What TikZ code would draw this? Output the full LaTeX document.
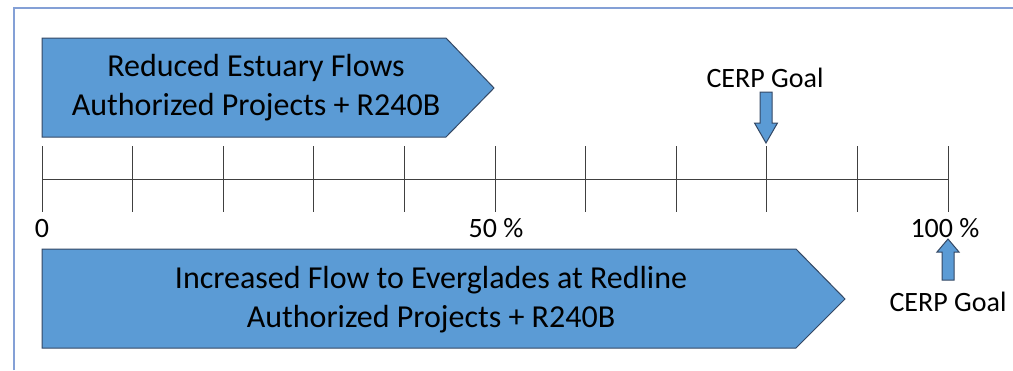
\documentclass[tikz,border=0pt]{standalone}
\usepackage{fontspec}
\setmainfont{Carlito}

\definecolor{flowblue}{RGB}{91,155,213}
\definecolor{flowedge}{RGB}{52,72,100}
\definecolor{frameblue}{RGB}{132,160,214}

\tikzset{
  flowshape/.style={fill=flowblue, draw=flowedge, line width=1pt},
  flowtext/.style={align=center, font=\fontsize{32}{39}\selectfont},
  marktext/.style={font=\fontsize{28}{32}\selectfont},
  axisline/.style={draw=black!75, line width=0.8pt}
}

\begin{document}
\begin{tikzpicture}[x=1pt, y=-1pt]
  \useasboundingbox (0,0) rectangle (1013,370);
  \draw[frameblue, line width=2pt] (14,370) -- (14,8) -- (1013,8);

  % estuary flows
  \draw[flowshape] (42,38) -- (446,38) -- (494,88) -- (446,137) -- (42,137) -- cycle;
  \node[flowtext] (estuary) at (256,88) {Reduced Estuary Flows\\Authorized Projects + R240B};

  % scale
  \draw[axisline] (42,179) -- (948,179);
  \foreach \i in {0,...,10}
    \draw[axisline] ({42+90.6*\i},146) -- +(0,66);

  \node[marktext] (zero) at (42,229) {0};
  \node[marktext] (half) at (496,228) {50 \%};
  \node[marktext] (full) at (945,228) {100 \%};

  % everglades flow
  \draw[flowshape] (42,249) -- (796,249) -- (845,299) -- (796,348) -- (42,348) -- cycle;
  \node[flowtext] (everglades) at (431,300) {Increased Flow to Everglades at Redline\\Authorized Projects + R240B};

  % goals
  \node[marktext] (goaltop) at (765,78) {CERP Goal};
  \draw[flowshape] (760,92) -- (772,92) -- (772,123) -- (777.5,123) -- (766,143)
    -- (754.5,123) -- (760,123) -- cycle;

  \node[marktext] (goalbot) at (948,302) {CERP Goal};
  \draw[flowshape] (942,280) -- (954,280) -- (954,252) -- (959,252) -- (948,239)
    -- (937,252) -- (942,252) -- cycle;
\end{tikzpicture}
\end{document}
